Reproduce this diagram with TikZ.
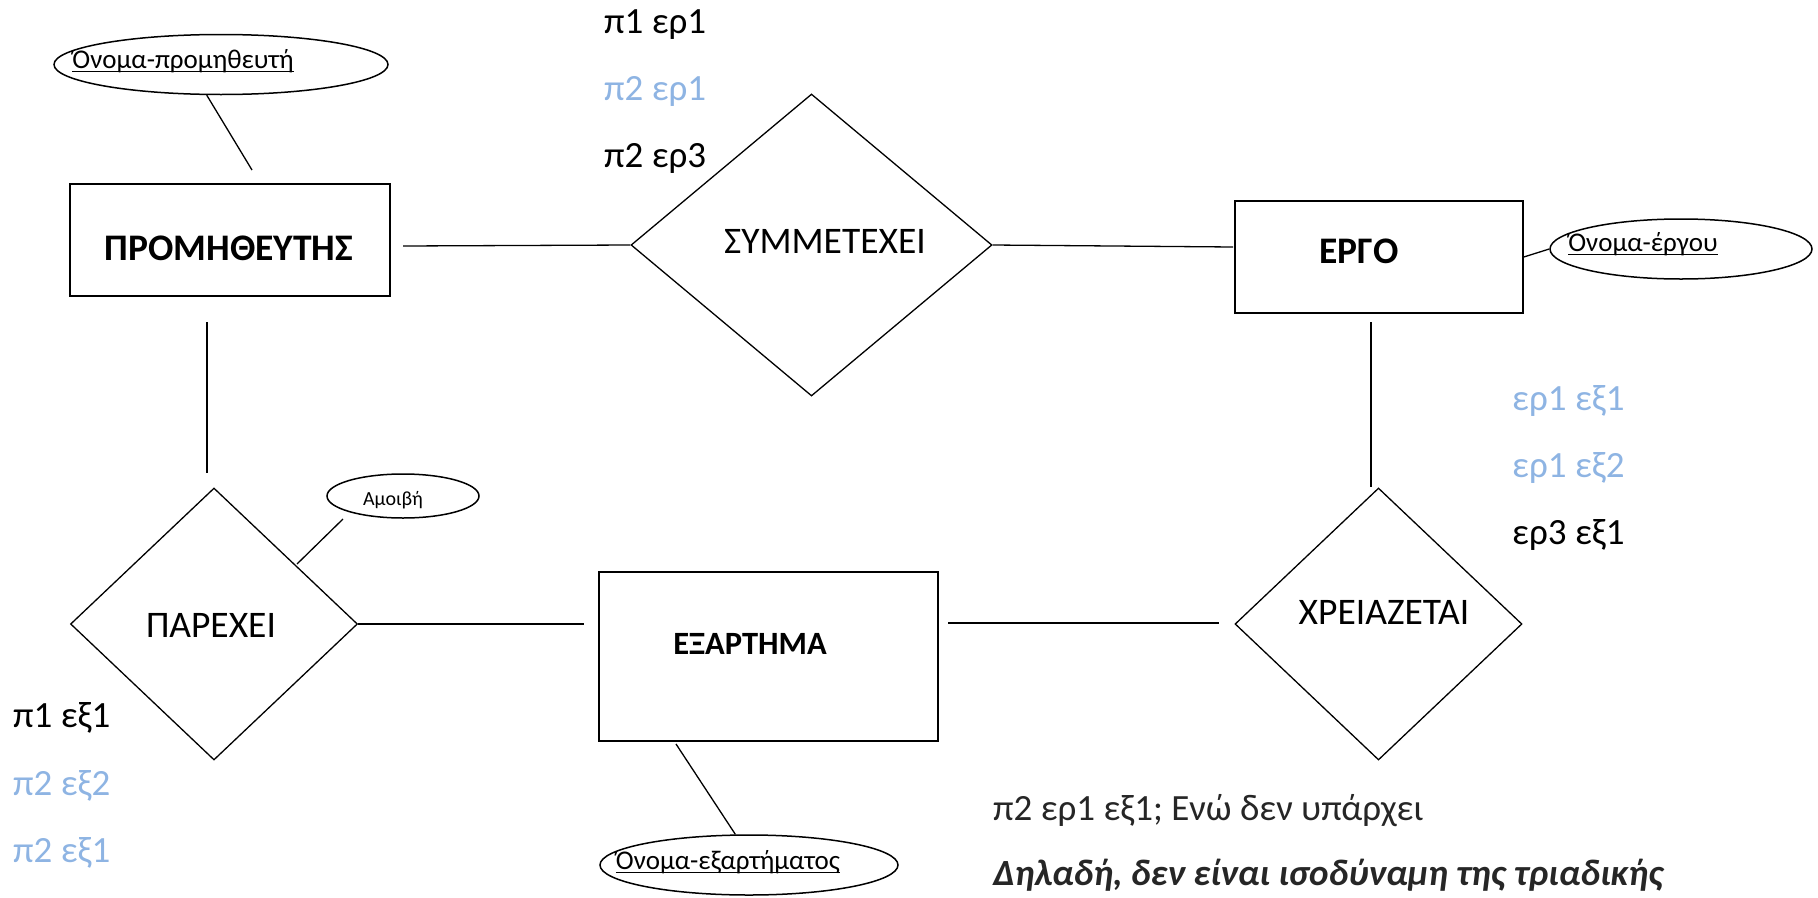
\documentclass[tikz,border=0pt]{standalone}
\usepackage{fontspec}
\setmainfont{Carlito}
\usetikzlibrary{shapes.geometric}
\definecolor{lblue}{RGB}{142,180,227}
\definecolor{dgray}{RGB}{38,38,38}
\newcommand\myul[1]{\setbox0=\hbox{#1}\leavevmode\rlap{\rule[-4pt]{\wd0}{1.3pt}}\box0}
\begin{document}
\begin{tikzpicture}[x=1pt,y=-1pt,
  entity/.style={draw, line width=1.6pt, rectangle, inner sep=0pt},
  rel/.style={draw, line width=1.3pt, diamond, inner sep=0pt},
  attr/.style={draw, line width=1.5pt, ellipse, inner sep=0pt},
  conn/.style={line width=1.3pt},
  big/.style={font=\fontsize{37.5}{42}\selectfont, anchor=base, inner sep=0pt},
  bigb/.style={font=\fontsize{37.5}{42}\selectfont\bfseries, anchor=base, inner sep=0pt},
  lbl/.style={font=\fontsize{37}{42}\selectfont, anchor=base west, inner sep=0pt},
  atext/.style={font=\fontsize{27}{30}\selectfont, anchor=base, inner sep=0pt},
]
\useasboundingbox (0,0) rectangle (1818,897);

% entities
\node[entity, minimum width=320pt, minimum height=112pt] (prom) at (230,240) {};
\node[bigb] (promt) at (229,260) {ΠΡΟΜΗΘΕΥΤΗΣ};
\node[entity, minimum width=288pt, minimum height=112pt] (ergo) at (1379,257) {};
\node[bigb] (ergot) at (1359,263) {ΕΡΓΟ};
\node[entity, minimum width=339pt, minimum height=169pt] (exart) at (768.5,656.5) {};
\node[bigb, font=\fontsize{32.5}{36}\selectfont\bfseries] (exartt) at (750,654) {ΕΞΑΡΤΗΜΑ};

% relationships
\node[rel, minimum width=361pt, minimum height=302pt] (summ) at (811.5,245) {};
\node[big] (summt) at (825,253) {ΣΥΜΜΕΤΕΧΕΙ};
\node[rel, minimum width=287pt, minimum height=272pt] (parex) at (214,624) {};
\node[big] (parext) at (211,637) {ΠΑΡΕΧΕΙ};
\node[rel, minimum width=287pt, minimum height=272pt] (xreia) at (1378.5,624) {};
\node[big] (xreiat) at (1384,624) {ΧΡΕΙΑΖΕΤΑΙ};

% attributes
\node[attr, minimum width=334pt, minimum height=60pt] (onprom) at (221,64.5) {};
\node[atext] (onpromt) at (183,68) {\myul{Όνομα-προμηθευτή}};
\node[attr, minimum width=262pt, minimum height=60pt] (onerg) at (1681,249) {};
\node[atext] (onergt) at (1643,251) {\myul{Όνομα-έργου}};
\node[attr, minimum width=298pt, minimum height=60pt] (onexa) at (749,865) {};
\node[atext] (onexat) at (728,869) {\myul{Όνομα-εξαρτήματος}};
\node[attr, minimum width=152pt, minimum height=44pt] (amoivi) at (403,496) {};
\node[atext, font=\fontsize{20}{24}\selectfont] (amoivit) at (393,505) {Αμοιβή};

% free ends of connectors
\coordinate (a1) at (252,170);
\coordinate (a2) at (403,246);
\coordinate (a3) at (1233,247);
\coordinate (a4) at (1371,322);
\coordinate (a5) at (1371,487);
\coordinate (a6) at (207,322);
\coordinate (a7) at (207,473);
\coordinate (a8) at (297,564);
\coordinate (a9) at (343,519);
\coordinate (a10) at (676,744);
\coordinate (a11) at (948,623);
\coordinate (a12) at (1219,623);
\coordinate (a13) at (584,624);

% connectors
\draw[conn] (onprom.245) -- (a1);
\draw[conn] (a2) -- (summ.west);
\draw[conn] (summ.east) -- (a3);
\draw[conn] (ergo.east) -- (onerg.west);
\draw[conn] (a4) -- (a5);
\draw[conn] (a6) -- (a7);
\draw[conn] (a8) -- (a9);
\draw[conn] (parex.east) -- (a13);
\draw[conn] (a11) -- (a12);
\draw[conn] (a10) -- (onexa.114);

% labels
\node[lbl] (l1) at (604,33) {π1 ερ1};
\node[lbl, text=lblue] (l2) at (604,100) {π2 ερ1};
\node[lbl] (l3) at (604,167) {π2 ερ3};
\node[lbl, text=lblue] (l4) at (1512,410) {ερ1 εξ1};
\node[lbl, text=lblue] (l5) at (1512,477) {ερ1 εξ2};
\node[lbl] (l6) at (1512,544) {ερ3 εξ1};
\node[lbl] (l7) at (13,727) {π1 εξ1};
\node[lbl, text=lblue] (l8) at (13,795) {π2 εξ2};
\node[lbl, text=lblue] (l9) at (13,862) {π2 εξ1};
\node[lbl, text=dgray] (l10) at (993,820) {π2 ερ1 εξ1; Ενώ δεν υπάρχει};
\node[lbl, text=dgray, font=\fontsize{37}{42}\selectfont\bfseries\itshape] (l11) at (993,885) {Δηλαδή, δεν είναι ισοδύναμη της τριαδικής};
\end{tikzpicture}
\end{document}
